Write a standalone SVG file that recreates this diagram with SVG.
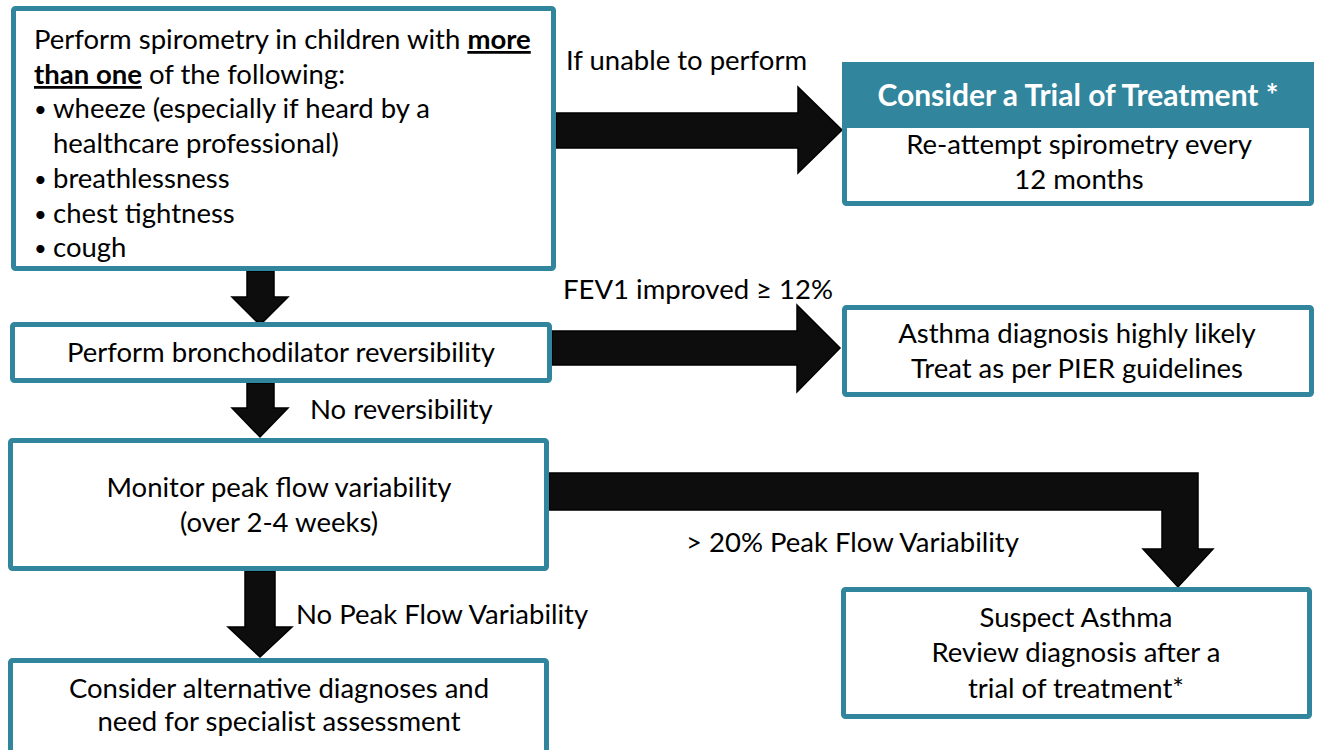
<svg xmlns="http://www.w3.org/2000/svg" width="1322" height="750" viewBox="0 0 1322 750">
  <defs>
    <style>
      .box { fill: #ffffff; stroke: #31859c; stroke-width: 5; }
      .hdr { fill: #31859c; }
      .arrow { fill: #0d0d0d; stroke: #000000; stroke-width: 1.5; stroke-linejoin: miter; }
      text { font-family: Lato, "Open Sans", "Liberation Sans", sans-serif; font-size: 27.5px; fill: #000000; }
      .c { text-anchor: middle; }
      .u { font-weight: bold; text-decoration: underline; }
      .dot { font-size: 22px; }
      .title { font-weight: bold; fill: #ffffff; font-size: 30px; }
    </style>
  </defs>
  <rect x="0" y="0" width="1322" height="750" fill="#ffffff"/>

  <!-- connectors: block arrows -->
  <g id="connectors">
    <path class="arrow" d="M556,113 H798 V87 L842,130 L798,173 V148 H556 Z"/>
    <path class="arrow" d="M552,331 H797 V305 L840,348 L797,392 V365 H552 Z"/>
    <path class="arrow" d="M549,473 H1198 V549 H1213 L1178,587 L1143,549 H1162 V510 H549 Z"/>
    <path class="arrow" d="M247,271 H274 V297 H288 L260,325 L232,297 H247 Z"/>
    <path class="arrow" d="M247,383 H274 V408 H288 L260,437 L232,408 H247 Z"/>
    <path class="arrow" d="M245,571 H275 V627 H292 L260,657 L228,627 H245 Z"/>
  </g>

  <!-- edge labels -->
  <g id="labels">
    <text x="566" y="70">If unable to perform</text>
    <text x="563" y="299">FEV1 improved ≥ 12%</text>
    <text x="310" y="419">No reversibility</text>
    <text x="686" y="552">&gt; 20% Peak Flow Variability</text>
    <text x="296" y="624">No Peak Flow Variability</text>
  </g>

  <g id="node-spirometry">
    <rect class="box" x="13.5" y="8.5" width="540" height="260" rx="2"/>
    <text x="34" y="49">Perform spirometry in children with <tspan class="u">more</tspan></text>
    <text x="34" y="84"><tspan class="u">than one</tspan> of the following:</text>
    <text class="dot" x="34" y="117">•</text><text x="53" y="118">wheeze (especially if heard by a</text>
    <text x="53" y="153">healthcare professional)</text>
    <text class="dot" x="34" y="187">•</text><text x="53" y="188">breathlessness</text>
    <text class="dot" x="34" y="222">•</text><text x="53" y="223">chest tightness</text>
    <text class="dot" x="34" y="256">•</text><text x="53" y="257">cough</text>
  </g>

  <g id="node-trial">
    <rect class="box" x="844.5" y="64.5" width="467" height="139" rx="2"/>
    <rect class="hdr" x="842" y="62" width="472" height="66"/>
    <text class="c title" x="1078" y="106">Consider a Trial of Treatment *</text>
    <text class="c" x="1079" y="154">Re-attempt spirometry every</text>
    <text class="c" x="1079" y="189">12 months</text>
  </g>

  <g id="node-bronchodilator">
    <rect class="box" x="12.5" y="324.5" width="537" height="56" rx="2"/>
    <text class="c" x="281" y="362">Perform bronchodilator reversibility</text>
  </g>

  <g id="node-asthma-likely">
    <rect class="box" x="844.5" y="307.5" width="467" height="87" rx="2"/>
    <text class="c" x="1077" y="343">Asthma diagnosis highly likely</text>
    <text class="c" x="1077" y="378">Treat as per PIER guidelines</text>
  </g>

  <g id="node-peak-flow">
    <rect class="box" x="10.5" y="440.5" width="536" height="128" rx="2"/>
    <text class="c" x="279" y="497">Monitor peak flow variability</text>
    <text class="c" x="279" y="532">(over 2-4 weeks)</text>
  </g>

  <g id="node-suspect">
    <rect class="box" x="843.5" y="589.5" width="466" height="127" rx="2"/>
    <text class="c" x="1076" y="627">Suspect Asthma</text>
    <text class="c" x="1076" y="662">Review diagnosis after a</text>
    <text class="c" x="1076" y="698">trial of treatment*</text>
  </g>

  <g id="node-alternative">
    <rect class="box" x="10.5" y="660.5" width="536" height="100" rx="2"/>
    <text class="c" x="279" y="698">Consider alternative diagnoses and</text>
    <text class="c" x="279" y="731">need for specialist assessment</text>
  </g>
</svg>
